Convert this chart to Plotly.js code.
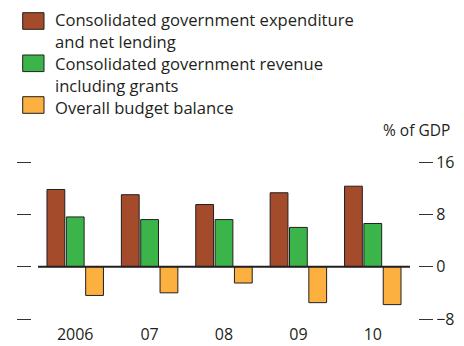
<!DOCTYPE html>
<html>
<head>
<meta charset="utf-8">
<script src="https://cdn.plot.ly/plotly-3.0.1.min.js"></script>
<style>html,body{margin:0;padding:0;background:#fff;}#chart{width:464px;height:346px;}</style>
</head>
<body>
<div id="chart"></div>
<script>
var categories = ["2006", "07", "08", "09", "10"];
var expenditure = [11.8, 11.0, 9.5, 11.3, 12.3];
var revenue = [7.6, 7.2, 7.2, 6.0, 6.6];
var balance = [-4.4, -4.0, -2.5, -5.5, -5.8];
var yTicks = [-8, 0, 8, 16];
var seriesNames = [
  "Consolidated government expenditure<br>and net lending",
  "Consolidated government revenue<br>including grants",
  "Overall budget balance"
];
var colors = ["#A34B2B", "#3BB54A", "#FBB040"];
var outline = "#231F20";
var font = "Open Sans, sans-serif";

var seriesValues = [expenditure, revenue, balance];
var traces = seriesValues.map(function (vals, i) {
  return {
    type: "bar",
    x: categories,
    y: vals,
    name: seriesNames[i],
    marker: { color: colors[i], line: { color: outline, width: 1 } },
    hoverinfo: "skip"
  };
});

// layout geometry (pixels) and converters to paper coords
var W = 464, H = 346, ML = 32, MR = 46, MT = 162, MB = 27;
var plotW = W - ML - MR, plotH = H - MT - MB;
function px(xp) { return (xp - ML) / plotW; }
function py(yp) { return (H - MB - yp) / plotH; }

var shapes = [{
  type: "line", xref: "x", yref: "y",
  x0: -0.5, x1: 4.5, y0: 0, y1: 0,
  line: { color: outline, width: 2 }
}];
var annotations = [{
  text: "% of GDP", xref: "paper", yref: "paper",
  x: px(451), y: py(129.5), xanchor: "right", yanchor: "middle",
  showarrow: false, borderpad: 0,
  font: { family: font, size: 15.5, color: "#231F20" }
}];

// manual legend
var swatchTops = [12.7, 55, 96.7];
var textCenters = [30.4, 74.7, 107.8];
for (var i = 0; i < 3; i++) {
  shapes.push({
    type: "rect", xref: "paper", yref: "paper",
    x0: px(22.7), x1: px(44), y0: py(swatchTops[i]), y1: py(swatchTops[i] + 16.6),
    fillcolor: colors[i], line: { color: outline, width: 1 }
  });
  annotations.push({
    text: seriesNames[i], xref: "paper", yref: "paper",
    x: px(53.5), y: py(textCenters[i]), xanchor: "left", yanchor: "middle",
    align: "left", showarrow: false, borderpad: 0,
    font: { family: font, size: 16.6, color: "#231F20" }
  });
}

var xr = [-0.581, 4.608];
var layout = {
  width: W,
  height: H,
  margin: { l: ML, r: MR, t: MT, b: MB },
  paper_bgcolor: "#fff",
  plot_bgcolor: "#fff",
  barmode: "group",
  bargap: 0.22,
  bargroupgap: 0.08,
  font: { family: font, size: 16, color: "#231F20" },
  showlegend: false,
  xaxis: {
    type: "category",
    range: xr,
    showline: false, showgrid: false, zeroline: false,
    ticks: "",
    ticklabelstandoff: 4,
    tickfont: { family: font, size: 16, color: "#231F20" }
  },
  xaxis2: {
    type: "linear",
    overlaying: "x",
    anchor: "free",
    position: 8 / 24,
    range: xr,
    showline: false, showgrid: false, zeroline: false,
    tickmode: "array",
    tickvals: [-0.5, 0.5, 1.5, 2.5, 3.5, 4.5],
    ticks: "inside", ticklen: 4, tickwidth: 1, tickcolor: outline,
    showticklabels: false
  },
  yaxis: {
    range: [-8, 16],
    side: "right",
    showline: false, showgrid: false, zeroline: false,
    tickmode: "array",
    tickvals: yTicks,
    ticks: "outside", ticklen: 14, tickwidth: 1, tickcolor: "#333",
    mirror: "ticks",
    tickfont: { family: font, size: 16, color: "#231F20" }
  },
  shapes: shapes,
  annotations: annotations
};

Plotly.newPlot("chart", traces, layout, { staticPlot: true, displayModeBar: false });
</script>
</body>
</html>
